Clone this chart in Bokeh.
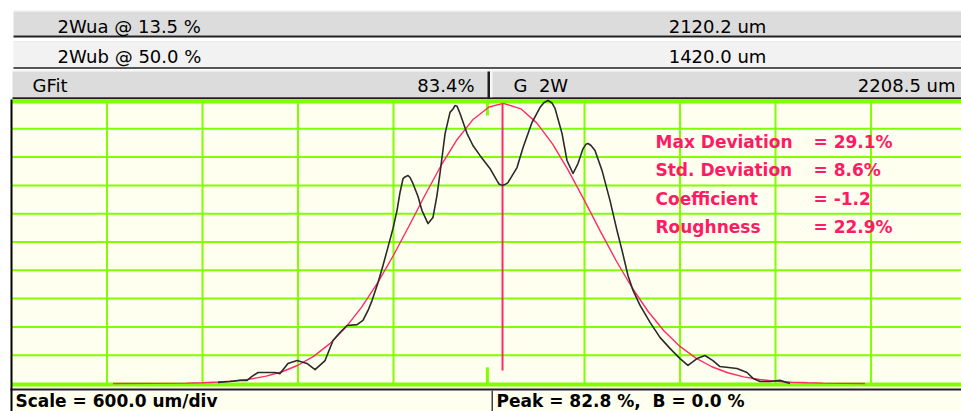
from bokeh.plotting import figure
from bokeh.models import Range1d
from bokeh.embed import file_html
from bokeh.resources import INLINE
from bokeh.core.properties import value

# ---------------- data ----------------
# measured beam profile (position in um, intensity in %)
profile_x = [-1703, -1627, -1564, -1520, -1489, -1451, -1389, -1345, -1313, -1263,
             -1206, -1144, -1093, -1030, -980, -936, -892, -829, -792, -760,
             -735, -697, -666, -635, -603, -578, -559, -540, -528, -509,
             -496, -478, -446, -421, -383, -352, -327, -308, -276, -245,
             -226, -214, -201, -182, -138, -101, -57, 6, 50, 63,
             82, 100, 119, 176, 214, 270, 320, 346, 371, 396,
             415, 459, 490, 528, 559, 591, 609, 622, 641, 666,
             710, 760, 804, 836, 873, 905, 949, 1012, 1074, 1137,
             1200, 1250, 1307, 1357, 1407, 1451, 1558, 1621, 1659, 1703,
             1765, 1828, 1891]
profile_y = [0.4, 0.7, 1.1, 1.1, 2.5, 3.9, 3.9, 3.9, 3.5, 7.1,
             8.1, 7.1, 4.9, 8.1, 15.2, 18.0, 20.5, 20.8, 22.3, 25.8,
             29.3, 35.7, 41.7, 48.1, 54.8, 61.1, 67.5, 72.4, 73.0, 73.5,
             72.8, 70.7, 66.1, 61.1, 56.5, 58.7, 66.4, 74.2, 88.3, 95.8,
             97.0, 98.2, 98.0, 95.4, 88.3, 84.1, 80.6, 76.0, 71.7, 70.5,
             70.0, 70.3, 71.0, 76.3, 83.4, 92.2, 97.5, 99.3, 100.0, 99.1,
             97.2, 88.3, 78.8, 74.2, 77.7, 83.0, 84.5, 84.8, 84.1, 82.3,
             75.3, 64.7, 54.1, 47.0, 38.2, 32.9, 27.6, 21.6, 16.3, 12.4,
             8.8, 6.4, 8.8, 9.9, 8.1, 6.0, 5.3, 3.9, 1.8, 0.7,
             0.7, 1.1, 0.0]

# Gaussian fit curve
fit_x = [-2362, -1900, -1800, -1700, -1600, -1500, -1400, -1300, -1200, -1100,
         -1000, -900, -800, -700, -600, -500, -400, -300, -200, -100,
         0, 90, 200, 300, 400, 500, 600, 700, 800, 900,
         1000, 1100, 1200, 1300, 1400, 1500, 1600, 1700, 1800, 1900,
         2000, 2100, 2362]
fit_y = [0.0, 0.15, 0.28, 0.51, 0.91, 1.56, 2.59, 4.16, 6.45, 9.69,
         14.09, 19.83, 26.98, 35.55, 45.32, 55.92, 66.77, 77.13, 86.24, 93.31,
         97.69, 99.0, 97.05, 92.09, 84.56, 75.13, 64.61, 53.76, 43.29, 33.74,
         25.44, 18.56, 13.11, 8.96, 5.92, 3.79, 2.35, 1.41, 0.82, 0.46,
         0.25, 0.13, 0.0]
fit_center = [85]
fit_marker_top = [99.0]
fit_marker_bottom = [4.6]

# centre-line stubs (x = 0)
stub_x = [-10, -10]
stub_y0 = [94.7, 0.0]
stub_y1 = [100.0, 5.7]

# grid (10 divisions of 600 um, 10 divisions of 10 %)
x_grid_ticks = [-2400, -1800, -1200, -600, 600, 1200, 1800, 2400]
y_grid_ticks = [10, 20, 30, 40, 50, 60, 70, 80, 90]

# texts
row_labels = ["2Wua @ 13.5 %", "2Wub @ 50.0 %"]
row_values = ["2120.2 um", "1420.0 um"]
gfit_label, gfit_value = "GFit", "83.4%"
g2w_label, g2w_value = "G \u00a02W", "2208.5 um"
stat_names = ["Max Deviation", "Std. Deviation", "Coefficient", "Roughness"]
stat_values = ["= 29.1%", "= 8.6%", "= -1.2", "= 22.9%"]
scale_text = "Scale = 600.0 um/div"
peak_text = "Peak = 82.8 %, \u00a0B = 0.0 %"

# ---------------- styling ----------------
W, H = 961, 411
CREAM = "#fffff0"
GREEN = "#80ff00"
PINK = "#ff2a6a"
PINK_TXT = "#ff1a66"
HDR_GRAY = "#dcdcdc"
HDR_LIGHT = "#f2f2f2"
DARK = "#1e1e1e"
FONT = value("DejaVu Sans")

# data-space mapping (pixels of the page)
UM_PER_DIV, PX_PER_DIV = 600.0, 95.5
PX_PER_PCT = 2.83
X0_PX, Y0_PX = 11, 383        # x=-3000 um and 0 % in pixels
um_start = -3000 - X0_PX * UM_PER_DIV / PX_PER_DIV
um_end = -3000 + (W - X0_PX) * UM_PER_DIV / PX_PER_DIV
pct_top = Y0_PX / PX_PER_PCT
pct_bot = -(H - Y0_PX) / PX_PER_PCT

p = figure(width=W, height=H, x_range=Range1d(0, W), y_range=Range1d(H, 0),
           output_backend="svg", toolbar_location=None,
           x_axis_type=None, y_axis_type=None, min_border=0,
           background_fill_color="white", border_fill_color="white",
           outline_line_color=None)
p.extra_x_ranges = {"um": Range1d(um_start, um_end)}
p.extra_y_ranges = {"pct": Range1d(pct_bot, pct_top)}
D = dict(x_range_name="um", y_range_name="pct")

# ---------------- header ----------------
p.quad(left=[13, 13, 12], right=[W, W, W], top=[11, 41.5, 71], bottom=[35, 66.7, 96.7],
       fill_color=[HDR_GRAY, HDR_LIGHT, HDR_GRAY], line_color=None)
p.quad(left=[13, 13, 12], right=[W, W, W], top=[10, 40.5, 70], bottom=[11, 41.5, 71],
       fill_color="#ececec", line_color=None)
p.quad(left=[13, 13, 12], right=[W, W, W], top=[35, 66.7, 96.7], bottom=[37, 68.3, 99],
       fill_color=DARK, line_color=None)
p.quad(left=[487], right=[489.5], top=[71], bottom=[99], fill_color=DARK, line_color=None)
p.quad(left=[489.5], right=[492], top=[71], bottom=[96.7], fill_color="#f8f8f8", line_color=None)

p.text(x=[57, 57], y=[25.5, 56], text=row_labels, text_font=FONT, text_font_size="18px",
       text_align="left", text_baseline="middle", text_color="black")
p.text(x=[717, 717], y=[25.5, 56], text=row_values, text_font=FONT, text_font_size="18px",
       text_align="center", text_baseline="middle", text_color="black")
p.text(x=[32, 513], y=[85, 85], text=[gfit_label, g2w_label], text_font=FONT,
       text_font_size="18px", text_align="left", text_baseline="middle", text_color="black")
p.text(x=[474, 955], y=[85, 85], text=[gfit_value, g2w_value], text_font=FONT,
       text_font_size="18px", text_align="right", text_baseline="middle", text_color="black")

# ---------------- plot area ----------------
p.quad(left=[11], right=[W], top=[99], bottom=[388], fill_color=CREAM, line_color=None)
p.segment(x0=x_grid_ticks, y0=[0] * len(x_grid_ticks), x1=x_grid_ticks,
          y1=[100] * len(x_grid_ticks), line_color=GREEN, line_width=2, **D)
p.segment(x0=[-3000] * len(y_grid_ticks), y0=y_grid_ticks, x1=[um_end] * len(y_grid_ticks),
          y1=y_grid_ticks, line_color=GREEN, line_width=2, **D)
p.quad(left=[11, 11], right=[W, W], top=[99, 382], bottom=[103, 386],
       fill_color=GREEN, line_color=None)
p.segment(x0=stub_x, y0=stub_y0, x1=stub_x, y1=stub_y1, line_color=GREEN, line_width=3, **D)

p.line(fit_x, fit_y, line_color=PINK, line_width=1.4, **D)
p.segment(x0=fit_center, y0=fit_marker_bottom, x1=fit_center, y1=fit_marker_top,
          line_color=PINK, line_width=2, **D)
p.line(profile_x, profile_y, line_color="#2a2a2a", line_width=1.6, line_join="round", **D)

stat_rows_px = [141, 169.5, 198, 226.5]
p.text(x=[655] * 4, y=stat_rows_px, text=stat_names, text_font=FONT,
       text_font_style="bold", text_font_size="17px", text_color=PINK_TXT,
       text_align="left", text_baseline="middle")
p.text(x=[813] * 4, y=stat_rows_px, text=stat_values, text_font=FONT,
       text_font_style="bold", text_font_size="17px", text_color=PINK_TXT,
       text_align="left", text_baseline="middle")

# ---------------- footer ----------------
p.quad(left=[11], right=[W], top=[390], bottom=[H], fill_color=CREAM, line_color=None)
p.quad(left=[10], right=[W], top=[388], bottom=[390], fill_color=DARK, line_color=None)
p.quad(left=[10], right=[12], top=[99], bottom=[H], fill_color="black", line_color=None)
p.quad(left=[491], right=[492.5], top=[390], bottom=[H], fill_color="#444444", line_color=None)
p.text(x=[15, 496], y=[400.5, 400.5], text=[scale_text, peak_text], text_font=FONT,
       text_font_style="bold", text_font_size="17px", text_color="black",
       text_align="left", text_baseline="middle")

open("out.html", "w").write(file_html(p, INLINE))
